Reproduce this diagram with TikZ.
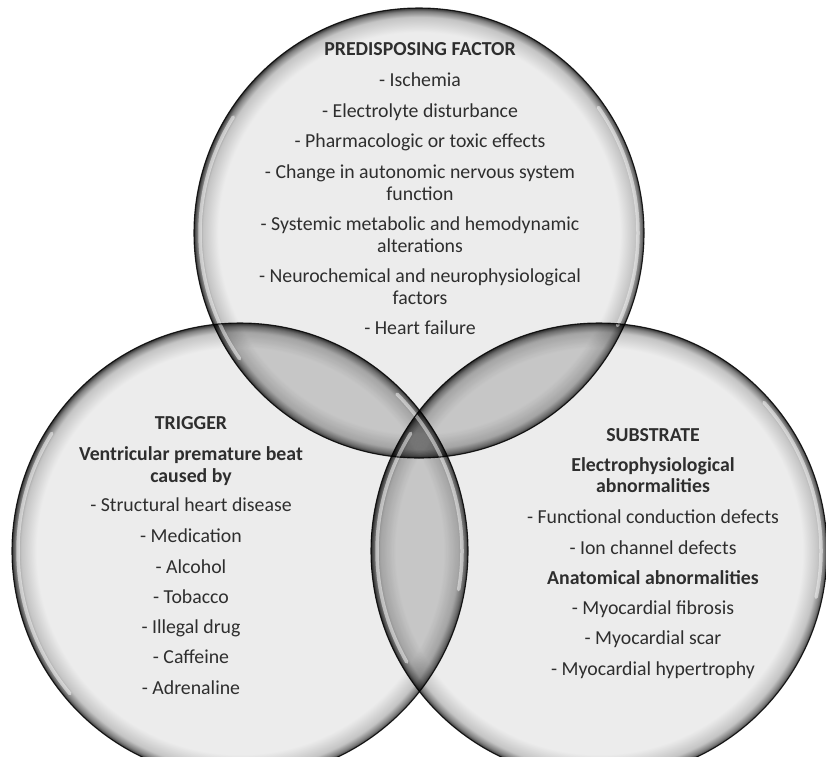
\documentclass[tikz,border=0pt]{standalone}
\usepackage{fontspec}
\setmainfont{Carlito}
\definecolor{cin}{HTML}{ECECEC}
\definecolor{cmA}{HTML}{C4C4C4}
\definecolor{cmB}{HTML}{7E7E7E}
\definecolor{cdk}{HTML}{353535}
\definecolor{lensgray}{gray}{0.91}
\definecolor{textgray}{HTML}{2E2E2E}
\definecolor{rimcol}{HTML}{2A2A2A}
\pgfdeclareradialshading{glass}{\pgfpoint{0bp}{0bp}}{color(0bp)=(cin); color(22.3bp)=(cin); color(24.0bp)=(cmA); color(24.65bp)=(cmB); color(25bp)=(cdk); color(50bp)=(cdk)}
\tikzset{
  x=1pt, y=-1pt,
  txt/.style={anchor=base, text=textgray, inner sep=0pt, font=\fontsize{19.8}{24}\selectfont},
  hd/.style={txt, font=\fontsize{19.8}{24}\selectfont\bfseries},
  hl/.style={draw=white, line width=3.5pt, opacity=0.5, line cap=round},
  rim/.style={draw=rimcol, line width=1.1pt},
}
\begin{document}
\begin{tikzpicture}
\useasboundingbox (0,0) rectangle (826,756);
\fill[white] (0,0) rectangle (826,756);
\coordinate (cP) at (419,233);
\coordinate (cT) at (240,551);
\coordinate (cS) at (599,551);
\begin{scope}
\clip (0,0) rectangle (826,756);
\begin{scope}[blend mode=multiply]
  \shade[shading=glass] (cP) circle[radius=225];
  \shade[shading=glass] (cT) circle[radius=228];
  \shade[shading=glass] (cS) circle[radius=228];
  \begin{scope}
    \clip (cP) circle[radius=225];
    \fill[lensgray] (cT) circle[radius=228];
    \fill[lensgray] (cS) circle[radius=228];
  \end{scope}
  \begin{scope}
    \clip (cT) circle[radius=228];
    \fill[lensgray] (cS) circle[radius=228];
  \end{scope}
\end{scope}
% highlights
\draw[hl] (cP) ++(145:219) arc[start angle=145, end angle=212, radius=219];
\draw[hl] (cP) ++(-35:219) arc[start angle=-35, end angle=25, radius=219];
\draw[hl] (cT) ++(140:222) arc[start angle=140, end angle=212, radius=222];
\draw[hl] (cT) ++(-45:222) arc[start angle=-45, end angle=10, radius=222];
\draw[hl] (cS) ++(150:222) arc[start angle=150, end angle=212, radius=222];
\draw[hl] (cS) ++(-42:222) arc[start angle=-42, end angle=12, radius=222];
\begin{scope}[blend mode=multiply]
  \draw[rim] (cP) circle[radius=225];
  \draw[rim] (cT) circle[radius=228];
  \draw[rim] (cS) circle[radius=228];
\end{scope}
\end{scope}
% predisposing factor
\node[hd]  (p0) at (420,55)  {PREDISPOSING FACTOR};
\node[txt] (p1) at (420,86)  {- Ischemia};
\node[txt] (p2) at (420,117) {- Electrolyte disturbance};
\node[txt] (p3) at (420,147) {- Pharmacologic or toxic effects};
\node[txt] (p4) at (420,178) {- Change in autonomic nervous system};
\node[txt] (p4b) at (420,200) {function};
\node[txt] (p5) at (420,230) {- Systemic metabolic and hemodynamic};
\node[txt] (p5b) at (420,252) {alterations};
\node[txt] (p6) at (420,282) {- Neurochemical and neurophysiological};
\node[txt] (p6b) at (420,304) {factors};
\node[txt] (p7) at (420,334) {- Heart failure};
% trigger
\node[hd]  (t0) at (191,429) {TRIGGER};
\node[hd]  (t1) at (191,460) {Ventricular premature beat};
\node[hd]  (t1b) at (191,482) {caused by};
\node[txt] (t2) at (191,511) {- Structural heart disease};
\node[txt] (t3) at (191,542) {- Medication};
\node[txt] (t4) at (191,573) {- Alcohol};
\node[txt] (t5) at (191,603) {- Tobacco};
\node[txt] (t6) at (191,633) {- Illegal drug};
\node[txt] (t7) at (191,663) {- Caffeine};
\node[txt] (t8) at (191,694) {- Adrenaline};
% substrate
\node[hd]  (s0) at (653,441) {SUBSTRATE};
\node[hd]  (s1) at (653,471) {Electrophysiological};
\node[hd]  (s1b) at (653,492) {abnormalities};
\node[txt] (s2) at (653,523) {- Functional conduction defects};
\node[txt] (s3) at (653,554) {- Ion channel defects};
\node[hd]  (s4) at (653,584) {Anatomical abnormalities};
\node[txt] (s5) at (653,614) {- Myocardial fibrosis};
\node[txt] (s6) at (653,644) {- Myocardial scar};
\node[txt] (s7) at (653,675) {- Myocardial hypertrophy};
\end{tikzpicture}
\end{document}
